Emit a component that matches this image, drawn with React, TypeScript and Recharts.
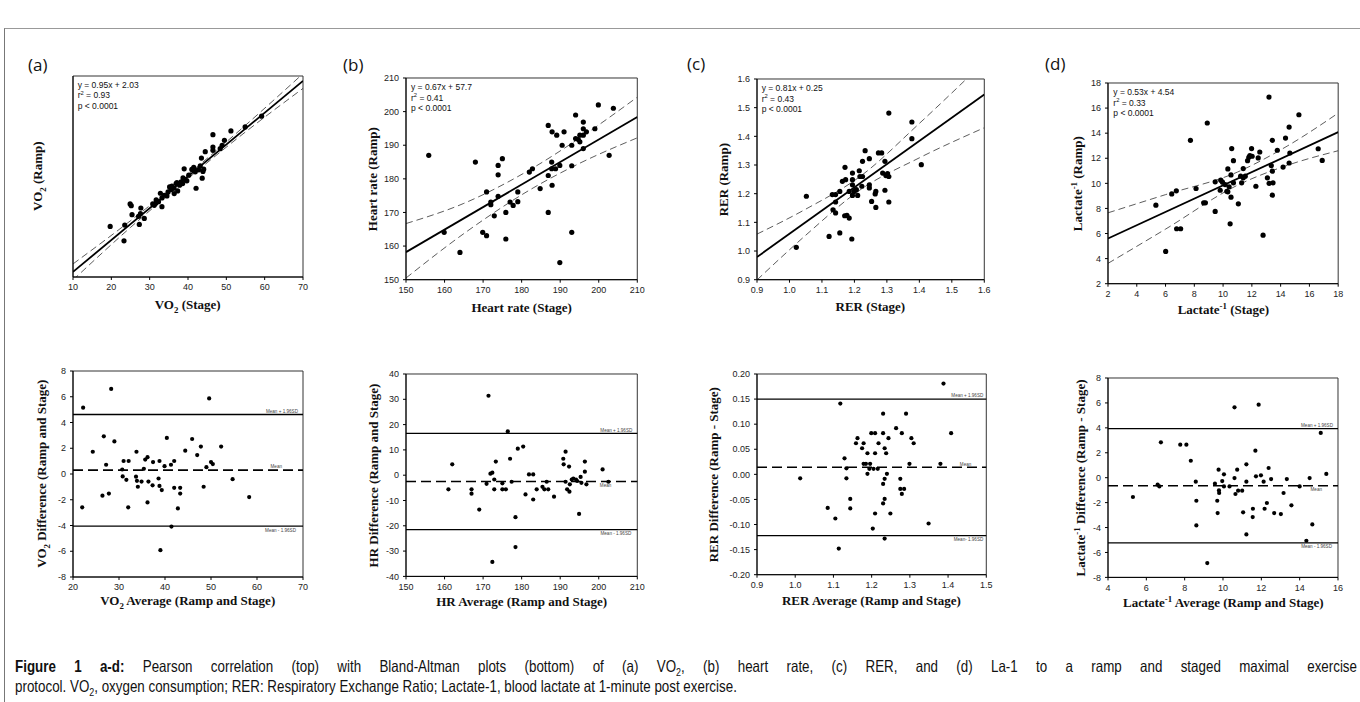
import React from 'react';
import { ComposedChart, Scatter, Line, XAxis, YAxis, ReferenceLine, ReferenceArea } from 'recharts';

type Pt = [number, number];

// ---------------- (a) VO2 ----------------
const vo2Corr: Pt[] = [
  [19.7, 25.1], [23.5, 25.5], [23.3, 20.8], [24.9, 31.8], [25.2, 31.3], [25.4, 28.6], [27.1, 28.1], [27.3, 25.7],
  [27.7, 30.6], [28.6, 27.5], [30.8, 31.8], [31.2, 31.4], [31.6, 32.0], [31.7, 33.0], [32.3, 32.5], [32.8, 35.0],
  [33.2, 31.0], [33.2, 33.6], [33.8, 34.4], [34.5, 34.2], [34.8, 35.4], [35.2, 36.9], [35.6, 36.1], [35.8, 37.1],
  [36.3, 36.5], [36.4, 34.9], [36.9, 37.9], [37.1, 38.2], [37.3, 35.7], [37.8, 37.4], [38.2, 38.4], [38.6, 37.9],
  [38.7, 39.6], [39.0, 42.3], [39.3, 39.1], [39.7, 38.7], [40.2, 40.4], [41.0, 42.1], [41.5, 42.7], [41.7, 41.9],
  [41.9, 41.4], [42.1, 36.5], [42.8, 42.0], [43.2, 43.2], [43.5, 45.5], [43.7, 39.5], [43.9, 41.5], [44.1, 42.2],
  [44.5, 47.4], [46.5, 52.5], [46.5, 48.8], [46.5, 47.8], [48.4, 48.3], [48.9, 49.3], [49.5, 50.8], [51.2, 53.6],
  [54.9, 54.8], [59.2, 58.0], [27.6, 28.9],
];
const vo2Fit = { slope: 0.95, intercept: 2.03 };
const vo2CiX = [10, 25, 38, 55, 70];
const vo2CiUpper = [13.9, 26.8, 38.7, 55.3, 70.7];
const vo2CiLower = [9.1, 24.8, 37.5, 53.3, 66.3];
const vo2Ba: Pt[] = [
  [22.2, 5.15], [22.0, -2.59], [24.3, 1.73], [26.4, -1.68], [26.7, 2.93], [27.2, 0.72], [27.8, -1.52], [28.3, 6.61],
  [29.0, 2.53], [30.7, 0.35], [30.8, -0.19], [31.0, 1.01], [31.6, -0.45], [32.1, 1.01], [32.0, -2.59], [33.7, -0.21],
  [33.8, 1.73], [33.9, -0.53], [34.1, -0.99], [34.9, -0.59], [35.4, 0.4], [35.7, 1.12], [36.2, 1.31], [36.2, -2.21],
  [36.4, -0.59], [37.3, -0.88], [37.4, 0.93], [38.6, -0.35], [38.8, 1.01], [38.8, -0.93], [39.0, -5.92], [39.3, -1.25],
  [39.9, 0.61], [40.4, 2.8], [41.3, 0.72], [41.4, -4.08], [42.0, 1.01], [42.0, -1.07], [42.8, -2.67], [43.3, -1.07],
  [43.3, -1.52], [44.4, 1.81], [45.9, 2.72], [47.0, 1.47], [47.8, 2.13], [48.4, -0.99], [49.0, 0.53], [49.6, 5.87],
  [50.0, 0.93], [50.4, 0.77], [52.2, 2.13], [54.7, -0.4], [58.3, -1.79],
];
const vo2BaMean = 0.3;
const vo2BaUpper = 4.62;
const vo2BaLower = -4.05;

// ---------------- (b) Heart rate ----------------
const hrCorr: Pt[] = [
  [155.9, 187.0], [159.9, 164.1], [164.0, 158.1], [168.0, 185.0], [169.9, 164.1], [170.9, 163.1], [170.9, 176.1],
  [172.0, 173.1], [172.0, 172.3], [172.9, 169.0], [173.9, 181.2], [173.9, 184.0], [173.9, 174.8], [175.0, 186.0],
  [175.9, 170.0], [175.9, 162.1], [177.0, 173.1], [177.8, 172.1], [179.0, 173.2], [179.0, 176.1], [182.0, 182.0],
  [182.8, 183.0], [184.8, 177.1], [186.9, 181.0], [186.9, 170.0], [186.9, 195.9], [187.8, 185.0], [187.8, 183.0],
  [187.9, 178.1], [187.9, 194.0], [188.8, 183.0], [189.1, 193.0], [189.9, 184.0], [189.9, 155.1], [190.5, 190.0],
  [193.0, 190.0], [191.0, 194.0], [193.0, 183.9], [193.0, 164.1], [194.0, 199.0], [194.0, 192.0], [194.7, 191.7],
  [195.1, 191.0], [195.1, 193.0], [196.0, 189.0], [196.0, 193.0], [196.0, 194.9], [196.0, 196.9], [196.8, 194.0],
  [199.0, 194.9], [199.9, 202.0], [202.7, 187.0], [203.8, 201.0],
];
const hrFit = { slope: 0.67, intercept: 57.7 };
const hrCiX = [150, 165, 183, 195, 210];
const hrCiUpper = [166.7, 172.7, 183.3, 192.1, 204.3];
const hrCiLower = [150.5, 163.7, 177.3, 184.6, 192.2];
const hrBa: Pt[] = [
  [161.0, -5.6], [162.0, 4.3], [167.0, -5.6], [167.0, -7.3], [169.0, -13.6], [170.9, -3.4], [171.4, 31.4],
  [171.9, 0.6], [172.4, 1.0], [172.4, -34.3], [172.9, -1.7], [172.9, -5.6], [173.3, 5.4], [175.0, -3.2],
  [175.0, -5.6], [175.9, -5.6], [176.4, 17.3], [177.0, 6.5], [177.4, -2.6], [178.4, -16.6], [178.4, -28.4],
  [179.0, 10.5], [180.4, 11.3], [181.0, -7.6], [181.9, 0.3], [183.0, 0.3], [183.0, -9.6], [183.9, -5.6],
  [185.4, -4.6], [185.9, -5.6], [186.5, -2.6], [186.9, -5.6], [188.4, -8.5], [190.8, 6.5], [190.9, 4.3],
  [191.4, 9.3], [191.4, -2.6], [192.3, 3.4], [191.8, -5.6], [192.4, -6.5], [192.5, -3.6], [193.0, -1.7],
  [193.4, -1.3], [194.1, -1.7], [194.4, -2.3], [194.9, -15.3], [195.3, -0.7], [195.5, -3.0], [196.4, 5.4],
  [196.4, 1.4], [196.8, -3.6], [201.0, 2.3], [202.5, -2.6],
];
const hrBaMean = -2.5;
const hrBaUpper = 16.5;
const hrBaLower = -21.5;

// ---------------- (c) RER ----------------
const rerCorr: Pt[] = [
  [1.021, 1.013], [1.052, 1.191], [1.122, 1.051], [1.132, 1.197], [1.134, 1.144], [1.142, 1.133], [1.142, 1.171],
  [1.155, 1.208], [1.155, 1.063], [1.163, 1.243], [1.171, 1.292], [1.173, 1.249], [1.177, 1.124], [1.184, 1.115],
  [1.184, 1.208], [1.192, 1.042], [1.194, 1.272], [1.194, 1.249], [1.194, 1.231], [1.194, 1.194], [1.199, 1.208],
  [1.206, 1.214], [1.215, 1.28], [1.217, 1.26], [1.223, 1.226], [1.225, 1.26], [1.225, 1.313], [1.233, 1.35],
  [1.246, 1.322], [1.246, 1.231], [1.246, 1.22], [1.253, 1.173], [1.266, 1.152], [1.266, 1.208], [1.264, 1.199],
  [1.274, 1.342], [1.284, 1.342], [1.287, 1.272], [1.294, 1.313], [1.294, 1.212], [1.297, 1.263], [1.302, 1.27],
  [1.306, 1.481], [1.306, 1.171], [1.306, 1.26], [1.377, 1.45], [1.377, 1.392], [1.406, 1.301], [1.142, 1.197],
  [1.21, 1.194], [1.17, 1.123],
];
const rerFit = { slope: 0.81, intercept: 0.25 };
const rerCiX = [0.9, 1.05, 1.22, 1.4, 1.6];
const rerCiUpper = [1.059, 1.146, 1.262, 1.445, 1.66];
const rerCiLower = [0.899, 1.055, 1.215, 1.325, 1.43];
const rerBa: Pt[] = [
  [1.013, -0.008], [1.085, -0.067], [1.105, -0.088], [1.114, -0.148], [1.118, 0.141], [1.129, 0.032], [1.134, 0.012],
  [1.134, -0.008], [1.144, -0.049], [1.144, -0.068], [1.159, 0.062], [1.163, 0.072], [1.175, 0.052], [1.179, 0.062],
  [1.179, 0.021], [1.185, 0.021], [1.189, 0.042], [1.189, 0.001], [1.194, 0.011], [1.196, 0.021], [1.199, 0.082],
  [1.203, -0.108], [1.205, 0.011], [1.209, 0.082], [1.209, 0.042], [1.209, -0.078], [1.216, 0.011], [1.218, 0.062],
  [1.23, 0.121], [1.23, 0.082], [1.23, -0.019], [1.23, -0.058], [1.234, 0.052], [1.234, -0.009], [1.234, -0.049],
  [1.234, -0.128], [1.238, 0.042], [1.24, 0.001], [1.244, 0.072], [1.249, -0.078], [1.264, 0.092], [1.275, -0.009],
  [1.275, -0.029], [1.279, 0.082], [1.279, -0.039], [1.285, -0.029], [1.29, 0.121], [1.299, 0.021], [1.304, 0.072],
  [1.31, 0.062], [1.349, -0.098], [1.38, 0.021], [1.388, 0.181], [1.408, 0.082],
];
const rerBaMean = 0.014;
const rerBaUpper = 0.15;
const rerBaLower = -0.122;

// ---------------- (d) Lactate-1 ----------------
const lacCorr: Pt[] = [
  [5.33, 8.26], [6.01, 4.57], [6.43, 9.16], [6.75, 9.4], [6.77, 6.38], [7.05, 6.38], [7.73, 13.43], [8.12, 9.59],
  [8.65, 8.45], [8.77, 8.45], [8.9, 14.81], [9.45, 7.76], [9.45, 10.12], [9.8, 9.45], [9.84, 10.25], [9.96, 10.09],
  [10.14, 9.9], [10.26, 9.37], [10.33, 9.32], [10.33, 11.15], [10.42, 9.72], [10.49, 6.77], [10.55, 8.9],
  [10.55, 10.67], [10.6, 12.77], [10.72, 11.81], [10.72, 10.04], [11.06, 8.37], [11.22, 10.57], [11.29, 10.04],
  [11.4, 11.18], [11.4, 10.44], [11.54, 10.57], [11.7, 11.81], [11.79, 12.08], [11.86, 12.21], [11.98, 12.77],
  [12.02, 12.16], [12.28, 9.77], [12.44, 12.03], [12.55, 12.5], [12.78, 5.87], [13.08, 10.44], [13.19, 16.88],
  [13.35, 11.42], [13.42, 13.43], [13.42, 9.06], [13.77, 12.64], [13.47, 10.04], [13.42, 10.97], [14.34, 13.61],
  [14.59, 14.49], [15.27, 15.47], [14.64, 12.42], [14.59, 11.62], [14.17, 11.3], [16.61, 12.76], [16.89, 11.83],
  [13.2, 10.0],
];
const lacFit = { slope: 0.53, intercept: 4.54 };
const lacCiX = [2, 6, 11, 14.5, 18];
const lacCiUpper = [7.65, 9.1, 10.9, 13.0, 15.6];
const lacCiLower = [3.62, 6.35, 9.85, 11.45, 12.6];
const lacBa: Pt[] = [
  [5.3, -1.55], [6.59, -0.56], [6.68, -0.7], [6.76, 2.84], [7.77, 2.65], [8.09, 2.65], [8.32, 1.36], [8.58, -0.32],
  [8.61, -1.85], [8.61, -3.83], [9.18, -6.85], [9.58, -0.48], [9.7, -1.85], [9.72, -2.84], [9.77, 0.64], [9.79, -1.02],
  [9.8, -1.23], [9.96, -0.27], [10.05, 0.27], [10.05, -0.7], [10.34, -0.7], [10.6, -0.03], [10.65, -1.31],
  [10.74, 0.64], [10.79, -1.04], [11.0, -1.04], [11.05, -2.78], [11.22, 1.07], [11.22, -0.32], [11.22, -4.55],
  [11.55, -3.16], [11.56, -2.49], [11.69, 2.17], [11.72, 0.11], [11.86, 5.86], [10.6, 5.65], [11.98, 0.19],
  [12.12, -0.32], [12.17, -2.49], [12.29, -2.03], [12.38, 0.78], [12.51, -0.11], [12.67, -2.84], [13.02, -2.92],
  [13.16, -1.23], [13.33, -0.11], [13.57, -2.22], [14.52, -0.03], [14.66, -3.75], [14.35, -5.06], [15.1, 3.59],
  [15.39, 0.3], [14.0, -0.7],
];
const lacBaMean = -0.65;
const lacBaUpper = 3.93;
const lacBaLower = -5.23;

// ---------------- ticks ----------------
const vo2CorrTicks = [10, 20, 30, 40, 50, 60, 70];
const hrCorrTicks = [150, 160, 170, 180, 190, 200, 210];
const rerCorrTicks = [0.9, 1.0, 1.1, 1.2, 1.3, 1.4, 1.5, 1.6];
const lacCorrTicks = [2, 4, 6, 8, 10, 12, 14, 16, 18];
const vo2BaXTicks = [20, 30, 40, 50, 60, 70];
const vo2BaYTicks = [-8, -6, -4, -2, 0, 2, 4, 6, 8];
const hrBaXTicks = [150, 160, 170, 180, 190, 200, 210];
const hrBaYTicks = [-40, -30, -20, -10, 0, 10, 20, 30, 40];
const rerBaXTicks = [0.9, 1.0, 1.1, 1.2, 1.3, 1.4, 1.5];
const rerBaYTicks = [-0.2, -0.15, -0.1, -0.05, 0, 0.05, 0.1, 0.15, 0.2];
const lacBaXTicks = [4, 6, 8, 10, 12, 14, 16];
const lacBaYTicks = [-8, -6, -4, -2, 0, 2, 4, 6, 8];

const baLabelUpper = 'Mean + 1.96SD';
const baLabelMean = 'Mean';
const baLabelLower = 'Mean - 1.96SD';

const equations = [
  ['y = 0.95x + 2.03', '0.93'],
  ['y = 0.67x + 57.7', '0.41'],
  ['y = 0.81x + 0.25', '0.43'],
  ['y = 0.53x + 4.54', '0.33'],
];
const pText = 'p < 0.0001';

// ---------------- styling ----------------
const SANS = "'Liberation Sans', Arial, sans-serif";
const SERIF = "'Liberation Serif', 'Times New Roman', serif";

type Seg = { t: string; sub?: boolean; sup?: boolean };

function Rich({ segs, fs }: { segs: Seg[]; fs: number }) {
  let shift = 0;
  return (
    <>
      {segs.map((s, i) => {
        const target = s.sub ? fs * 0.3 : s.sup ? -fs * 0.4 : 0;
        const dy = target - shift;
        shift = target;
        return (
          <tspan key={i} dy={dy} fontSize={s.sub || s.sup ? fs * 0.68 : fs}>
            {s.t}
          </tspan>
        );
      })}
    </>
  );
}

interface BaDef {
  mean: number;
  upper: number;
  lower: number;
  padU: number;
  padM: number;
  meanAbove: boolean;
  padL: number;
  lowerText?: string;
}

interface PanelDef {
  box: [number, number, number, number];
  xDomain: [number, number];
  xTicks: number[];
  yDomain: [number, number];
  yTicks: number[];
  xDec: number;
  yDec: number;
  hideYLabels?: boolean;
  points: Pt[];
  r: number;
  fit?: { slope: number; intercept: number };
  ciX?: number[];
  ciU?: number[];
  ciL?: number[];
  ba?: BaDef;
  xTitle: Seg[];
  yTitle: Seg[];
  yTitleOff: number;
  xTitleDy: number;
  eq?: number;
}

const dotShape = (r: number) => (props: any) =>
  props.cx == null ? <g /> : <circle cx={props.cx} cy={props.cy} r={r} fill="#000" />;

const refLabel = (text: string, pad: number, above: boolean) => (props: any) => {
  const vb = props.viewBox || {};
  const x = (vb.x ?? 0) + (vb.width ?? 0) - pad;
  const y = (vb.y ?? 0) + (above ? -1.8 : 5.6);
  return (
    <text x={x} y={y} textAnchor="end" fontSize={4.6} fill="#444" fontFamily={SANS}>
      {text}
    </text>
  );
};

const ML = 80;
const MT = 12;
const MR = 12;
const MB = 40;

function Plot({ p }: { p: PanelDef }) {
  const [x0, y0, x1, y1] = p.box;
  const W = x1 - x0 + ML + MR;
  const H = y1 - y0 + MT + MB;
  const pts = p.points.map(([x, y]) => ({ x, y }));
  const fitData = p.fit
    ? p.xDomain.map((x) => ({ x, y: p.fit!.slope * x + p.fit!.intercept }))
    : null;
  const ciU = p.ciX && p.ciU ? p.ciX.map((x, i) => ({ x, y: p.ciU![i] })) : null;
  const ciL = p.ciX && p.ciL ? p.ciX.map((x, i) => ({ x, y: p.ciL![i] })) : null;
  const tickStyle = { fontSize: 9, fill: '#222', fontFamily: SANS };
  return (
    <div style={{ position: 'absolute', left: x0 - ML, top: y0 - MT, width: W, height: H }}>
      <ComposedChart width={W} height={H} margin={{ top: MT, right: MR, bottom: 0, left: 0 }}>
        <XAxis
          type="number"
          dataKey="x"
          domain={p.xDomain}
          ticks={p.xTicks}
          interval={0}
          allowDataOverflow
          height={MB}
          tickSize={3}
          tickMargin={4}
          tick={tickStyle}
          tickFormatter={(v: number) => v.toFixed(p.xDec)}
          axisLine={{ stroke: '#000' }}
          tickLine={{ stroke: '#000' }}
        />
        <YAxis
          type="number"
          dataKey="y"
          domain={p.yDomain}
          ticks={p.yTicks}
          interval={0}
          allowDataOverflow
          width={ML}
          tickSize={3}
          tickMargin={4}
          tick={p.hideYLabels ? false : tickStyle}
          tickFormatter={(v: number) => v.toFixed(p.yDec)}
          axisLine={{ stroke: '#000' }}
          tickLine={{ stroke: '#000' }}
        />
        <ReferenceArea
          x1={p.xDomain[0]}
          x2={p.xDomain[1]}
          y1={p.yDomain[0]}
          y2={p.yDomain[1]}
          fill="none"
          fillOpacity={0}
          stroke="#333"
          strokeWidth={1}
          ifOverflow="visible"
        />
        {p.ba && (
          <ReferenceLine
            y={p.ba.upper}
            stroke="#000"
            strokeWidth={1.3}
            label={refLabel(baLabelUpper, p.ba.padU, true)}
          />
        )}
        {p.ba && (
          <ReferenceLine
            y={p.ba.mean}
            stroke="#000"
            strokeWidth={1.6}
            strokeDasharray="10 5"
            label={refLabel(baLabelMean, p.ba.padM, p.ba.meanAbove)}
          />
        )}
        {p.ba && (
          <ReferenceLine
            y={p.ba.lower}
            stroke="#000"
            strokeWidth={1.3}
            label={refLabel(p.ba.lowerText || baLabelLower, p.ba.padL, false)}
          />
        )}
        {ciU && (
          <Line data={ciU} dataKey="y" type="monotone" dot={false} stroke="#333" strokeWidth={0.8}
            strokeDasharray="7 4" isAnimationActive={false} />
        )}
        {ciL && (
          <Line data={ciL} dataKey="y" type="monotone" dot={false} stroke="#333" strokeWidth={0.8}
            strokeDasharray="7 4" isAnimationActive={false} />
        )}
        {fitData && (
          <Line data={fitData} dataKey="y" type="linear" dot={false} stroke="#000" strokeWidth={1.8}
            isAnimationActive={false} />
        )}
        <Scatter data={pts} dataKey="y" shape={dotShape(p.r)} isAnimationActive={false} />
      </ComposedChart>
    </div>
  );
}

const VO: Seg[] = [{ t: 'VO' }, { t: '2', sub: true }];
const LAC: Seg[] = [{ t: 'Lactate' }, { t: '-1', sup: true }];

const panels: PanelDef[] = [
  {
    box: [72.7, 75.7, 302.7, 276.7], xDomain: [10, 70], xTicks: vo2CorrTicks, yDomain: [10, 70], yTicks: vo2CorrTicks,
    xDec: 0, yDec: 0, hideYLabels: true, points: vo2Corr, r: 2.6, fit: vo2Fit, ciX: vo2CiX, ciU: vo2CiUpper, ciL: vo2CiLower,
    xTitle: [...VO, { t: ' (Stage)' }], yTitle: [...VO, { t: ' (Ramp)' }], yTitleOff: 35, xTitleDy: 32, eq: 0,
  },
  {
    box: [406, 78.3, 637.3, 280], xDomain: [150, 210], xTicks: hrCorrTicks, yDomain: [150, 210], yTicks: hrCorrTicks,
    xDec: 0, yDec: 0, points: hrCorr, r: 2.6, fit: hrFit, ciX: hrCiX, ciU: hrCiUpper, ciL: hrCiLower,
    xTitle: [{ t: 'Heart rate (Stage)' }], yTitle: [{ t: 'Heart rate (Ramp)' }], yTitleOff: 33, xTitleDy: 32, eq: 1,
  },
  {
    box: [756.7, 79.3, 984, 280], xDomain: [0.9, 1.6], xTicks: rerCorrTicks, yDomain: [0.9, 1.6], yTicks: rerCorrTicks,
    xDec: 1, yDec: 1, points: rerCorr, r: 2.6, fit: rerFit, ciX: rerCiX, ciU: rerCiUpper, ciL: rerCiLower,
    xTitle: [{ t: 'RER (Stage)' }], yTitle: [{ t: 'RER (Ramp)' }], yTitleOff: 33, xTitleDy: 31, eq: 2,
  },
  {
    box: [1108.3, 83.3, 1338.5, 284], xDomain: [2, 18], xTicks: lacCorrTicks, yDomain: [2, 18], yTicks: lacCorrTicks,
    xDec: 0, yDec: 0, points: lacCorr, r: 2.6, fit: lacFit, ciX: lacCiX, ciU: lacCiUpper, ciL: lacCiLower,
    xTitle: [...LAC, { t: ' (Stage)' }], yTitle: [...LAC, { t: ' (Ramp)' }], yTitleOff: 31, xTitleDy: 30, eq: 3,
  },
  {
    box: [72.7, 370.7, 302.7, 576.7], xDomain: [20, 70], xTicks: vo2BaXTicks, yDomain: [-8, 8], yTicks: vo2BaYTicks,
    xDec: 0, yDec: 0, points: vo2Ba, r: 2.1,
    ba: { mean: vo2BaMean, upper: vo2BaUpper, lower: vo2BaLower, padU: 5, padM: 21, meanAbove: true, padL: 7 },
    xTitle: [...VO, { t: ' Average (Ramp and Stage)' }], yTitle: [...VO, { t: ' Difference (Ramp and Stage)' }],
    yTitleOff: 31, xTitleDy: 28,
  },
  {
    box: [406, 374.3, 637.3, 576.7], xDomain: [150, 210], xTicks: hrBaXTicks, yDomain: [-40, 40], yTicks: hrBaYTicks,
    xDec: 0, yDec: 0, points: hrBa, r: 2.1,
    ba: { mean: hrBaMean, upper: hrBaUpper, lower: hrBaLower, padU: 5, padM: 26, meanAbove: false, padL: 6 },
    xTitle: [{ t: 'HR Average (Ramp and Stage)' }], yTitle: [{ t: 'HR Difference (Ramp and Stage)' }],
    yTitleOff: 33, xTitleDy: 29,
  },
  {
    box: [756.7, 374.3, 986, 575], xDomain: [0.9, 1.5], xTicks: rerBaXTicks, yDomain: [-0.2, 0.2], yTicks: rerBaYTicks,
    xDec: 1, yDec: 2, points: rerBa, r: 2.1,
    ba: { mean: rerBaMean, upper: rerBaUpper, lower: rerBaLower, padU: 3, padM: 15, meanAbove: true, padL: 3, lowerText: 'Mean- 1.96SD' },
    xTitle: [{ t: 'RER Average (Ramp and Stage)' }], yTitle: [{ t: 'RER Difference (Ramp - Stage)' }],
    yTitleOff: 43, xTitleDy: 30,
  },
  {
    box: [1108.3, 378.3, 1338.3, 577.7], xDomain: [4, 16], xTicks: lacBaXTicks, yDomain: [-8, 8], yTicks: lacBaYTicks,
    xDec: 0, yDec: 0, points: lacBa, r: 2.1,
    ba: { mean: lacBaMean, upper: lacBaUpper, lower: lacBaLower, padU: 5, padM: 16, meanAbove: false, padL: 6 },
    xTitle: [...LAC, { t: ' Average (Ramp and Stage)' }], yTitle: [...LAC, { t: ' Difference (Ramp - Stage)' }],
    yTitleOff: 28, xTitleDy: 29,
  },
];

const panelLetters: [string, number, number][] = [
  ['(a)', 28, 71],
  ['(b)', 343, 71],
  ['(c)', 687, 69.5],
  ['(d)', 1045, 69.5],
];

const captionLine1Bold = 'Figure 1 a-d:';
const captionLine1A = 'Pearson correlation (top) with Bland-Altman plots (bottom) of (a) VO';
const captionLine1B = ', (b) heart rate, (c) RER, and (d) La-1 to a ramp and staged maximal exercise';
const captionLine2A = 'protocol. VO';
const captionLine2B = ', oxygen consumption; RER: Respiratory Exchange Ratio; Lactate-1, blood lactate at 1-minute post exercise.';

function Overlay() {
  const TFS = 13;
  return (
    <svg
      width={1360}
      height={702}
      style={{ position: 'absolute', left: 0, top: 0, pointerEvents: 'none' }}
    >
      <line x1={4.5} y1={28} x2={4.5} y2={702} stroke="#777" strokeWidth={1} />
      <line x1={4.5} y1={28.5} x2={1360} y2={28.5} stroke="#999" strokeWidth={1} />
      {panelLetters.map(([t, x, y]) => (
        <text key={t} x={x} y={y} fontSize={17} fontFamily="'Open Sans', 'Noto Sans', sans-serif" fill="#111">
          {t}
        </text>
      ))}
      {panels.map((p, i) => {
        const [x0, y0, x1, y1] = p.box;
        const cx = x0 - p.yTitleOff;
        const cy = (y0 + y1) / 2;
        return (
          <g key={i}>
            <text
              x={(x0 + x1) / 2}
              y={y1 + p.xTitleDy}
              textAnchor="middle"
              fontFamily={SERIF}
              fontWeight="bold"
              fontSize={TFS}
              fill="#111"
            >
              <Rich segs={p.xTitle} fs={TFS} />
            </text>
            <text
              x={cx}
              y={cy + 4.5}
              transform={`rotate(-90 ${cx} ${cy})`}
              textAnchor="middle"
              fontFamily={SERIF}
              fontWeight="bold"
              fontSize={TFS}
              fill="#111"
            >
              <Rich segs={p.yTitle} fs={TFS} />
            </text>
            {p.eq != null && (
              <g fontFamily={SANS} fontSize={8.5} fill="#111">
                <text x={x0 + 5} y={y0 + 12}>{equations[p.eq][0]}</text>
                <text x={x0 + 5} y={y0 + 22.5}>
                  <Rich segs={[{ t: 'r' }, { t: '2', sup: true }, { t: ' = ' + equations[p.eq][1] }]} fs={8.5} />
                </text>
                <text x={x0 + 5} y={y0 + 33}>{pText}</text>
              </g>
            )}
          </g>
        );
      })}
    </svg>
  );
}

function Caption() {
  const SX = 0.81;
  const base: React.CSSProperties = {
    position: 'absolute',
    left: 15,
    fontFamily: SANS,
    fontSize: 16.5,
    lineHeight: '20px',
    color: '#111',
    transform: `scaleX(${SX})`,
    transformOrigin: '0 0',
  };
  const sub: React.CSSProperties = { fontSize: 11, position: 'relative', top: 4 };
  return (
    <>
      <div
        style={{
          ...base,
          top: 655.5,
          width: 1342 / SX,
          textAlign: 'justify',
          textAlignLast: 'justify',
        }}
      >
        <b>{captionLine1Bold}</b> {captionLine1A}
        <span style={sub}>2</span>
        {captionLine1B}
      </div>
      <div style={{ ...base, top: 675.5, whiteSpace: 'nowrap' }}>
        {captionLine2A}
        <span style={sub}>2</span>
        {captionLine2B}
      </div>
    </>
  );
}

export default function App() {
  return (
    <div
      style={{
        position: 'absolute',
        left: 0,
        top: 0,
        width: 1360,
        height: 702,
        background: '#fff',
        overflow: 'hidden',
      }}
    >
      {panels.map((p, i) => (
        <Plot key={i} p={p} />
      ))}
      <Overlay />
      <Caption />
    </div>
  );
}
